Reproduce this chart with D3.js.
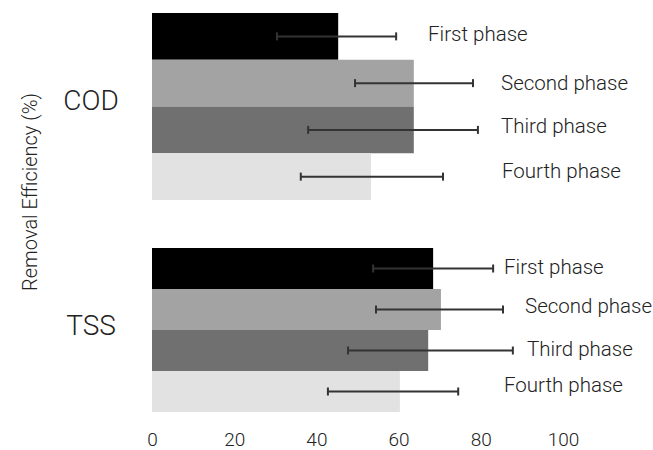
<!DOCTYPE html>
<html>
<head>
<meta charset="utf-8">
<script src="https://cdn.jsdelivr.net/npm/d3@7"></script>
<style>
  body { margin: 0; background: #fff; }
  text { font-family: Roboto, "Open Sans", sans-serif; font-weight: 300; fill: #222; }
</style>
</head>
<body>
<div id="chart"></div>
<script>
// data
var groups = ["COD", "TSS"];
var phases = ["First phase", "Second phase", "Third phase", "Fourth phase"];
var codValues = [45.3, 63.7, 63.7, 53.3];
var codErrLow = [30.4, 49.4, 38.0, 36.2];
var codErrHigh = [59.4, 78.1, 79.3, 70.8];
var tssValues = [68.4, 70.3, 67.2, 60.3];
var tssErrLow = [53.8, 54.5, 47.7, 42.8];
var tssErrHigh = [83.0, 85.4, 87.8, 74.5];
var xTicks = [0, 20, 40, 60, 80, 100];

// layout
var width = 653, height = 450;
var colors = ["#000000", "#a3a3a3", "#707070", "#e2e2e2"];
var groupRanges = { COD: [13, 200], TSS: [248, 412] };
var labelX = { COD: [428, 501, 501, 502], TSS: [504, 525, 527, 504] };
var labelDy = { COD: [-3, 0, -4, -6], TSS: [-2, -4, -2, -7] };

var svg = d3.select("#chart")
    .append("svg")
    .attr("width", width)
    .attr("height", height);

svg.append("rect")
    .attr("width", width)
    .attr("height", height)
    .attr("fill", "#fff");

var xScale = d3.scaleLinear()
    .domain([0, 100])
    .range([152, 563]);

var series = {
    COD: { values: codValues, low: codErrLow, high: codErrHigh },
    TSS: { values: tssValues, low: tssErrLow, high: tssErrHigh }
};

groups.forEach(function(g) {
    var yScale = d3.scaleBand()
        .domain(phases)
        .range(groupRanges[g])
        .padding(0);

    var rows = phases.map(function(p, i) {
        return { phase: p, i: i, value: series[g].values[i], low: series[g].low[i], high: series[g].high[i] };
    });

    var grp = svg.append("g");

    grp.selectAll("rect")
        .data(rows)
        .enter()
        .append("rect")
        .attr("x", xScale(0))
        .attr("y", d => yScale(d.phase))
        .attr("width", d => xScale(d.value) - xScale(0))
        .attr("height", yScale.bandwidth())
        .attr("fill", d => colors[d.i]);

    // error bars
    var err = grp.selectAll(".err")
        .data(rows)
        .enter()
        .append("g")
        .attr("class", "err")
        .attr("transform", d => `translate(0, ${yScale(d.phase) + yScale.bandwidth() / 2})`)
        .attr("stroke", "#333")
        .attr("stroke-width", 2);

    err.append("line")
        .attr("x1", d => xScale(d.low))
        .attr("x2", d => xScale(d.high));
    err.append("line")
        .attr("x1", d => xScale(d.low)).attr("x2", d => xScale(d.low))
        .attr("y1", -4).attr("y2", 4);
    err.append("line")
        .attr("x1", d => xScale(d.high)).attr("x2", d => xScale(d.high))
        .attr("y1", -4).attr("y2", 4);

    // phase labels
    grp.selectAll(".lbl")
        .data(rows)
        .enter()
        .append("text")
        .attr("class", "lbl")
        .attr("x", d => labelX[g][d.i])
        .attr("y", d => yScale(d.phase) + yScale.bandwidth() / 2 + labelDy[g][d.i])
        .attr("dy", "0.35em")
        .style("font-size", "20.5px")
        .text(d => d.phase);

    // group label
    svg.append("text")
        .attr("x", 91)
        .attr("y", g === "COD" ? 100 : 325)
        .attr("dy", "0.35em")
        .attr("text-anchor", "middle")
        .style("font-size", "28px")
        .text(g);
});

// x axis
var xAxis = d3.axisBottom(xScale)
    .tickValues(xTicks)
    .tickSize(0)
    .tickPadding(0);

var axisG = svg.append("g")
    .attr("transform", "translate(0, 432)")
    .call(xAxis);
axisG.select(".domain").remove();
axisG.selectAll("text")
    .style("font-size", "19px")
    .style("font-family", "Roboto, sans-serif")
    .style("font-weight", "300")
    .attr("fill", "#222");

// y axis title
svg.append("text")
    .attr("transform", "translate(30, 192) rotate(-90)")
    .attr("text-anchor", "middle")
    .attr("dy", "0.35em")
    .style("font-size", "20px")
    .text("Removal Efficiency (%)");
</script>
</body>
</html>
